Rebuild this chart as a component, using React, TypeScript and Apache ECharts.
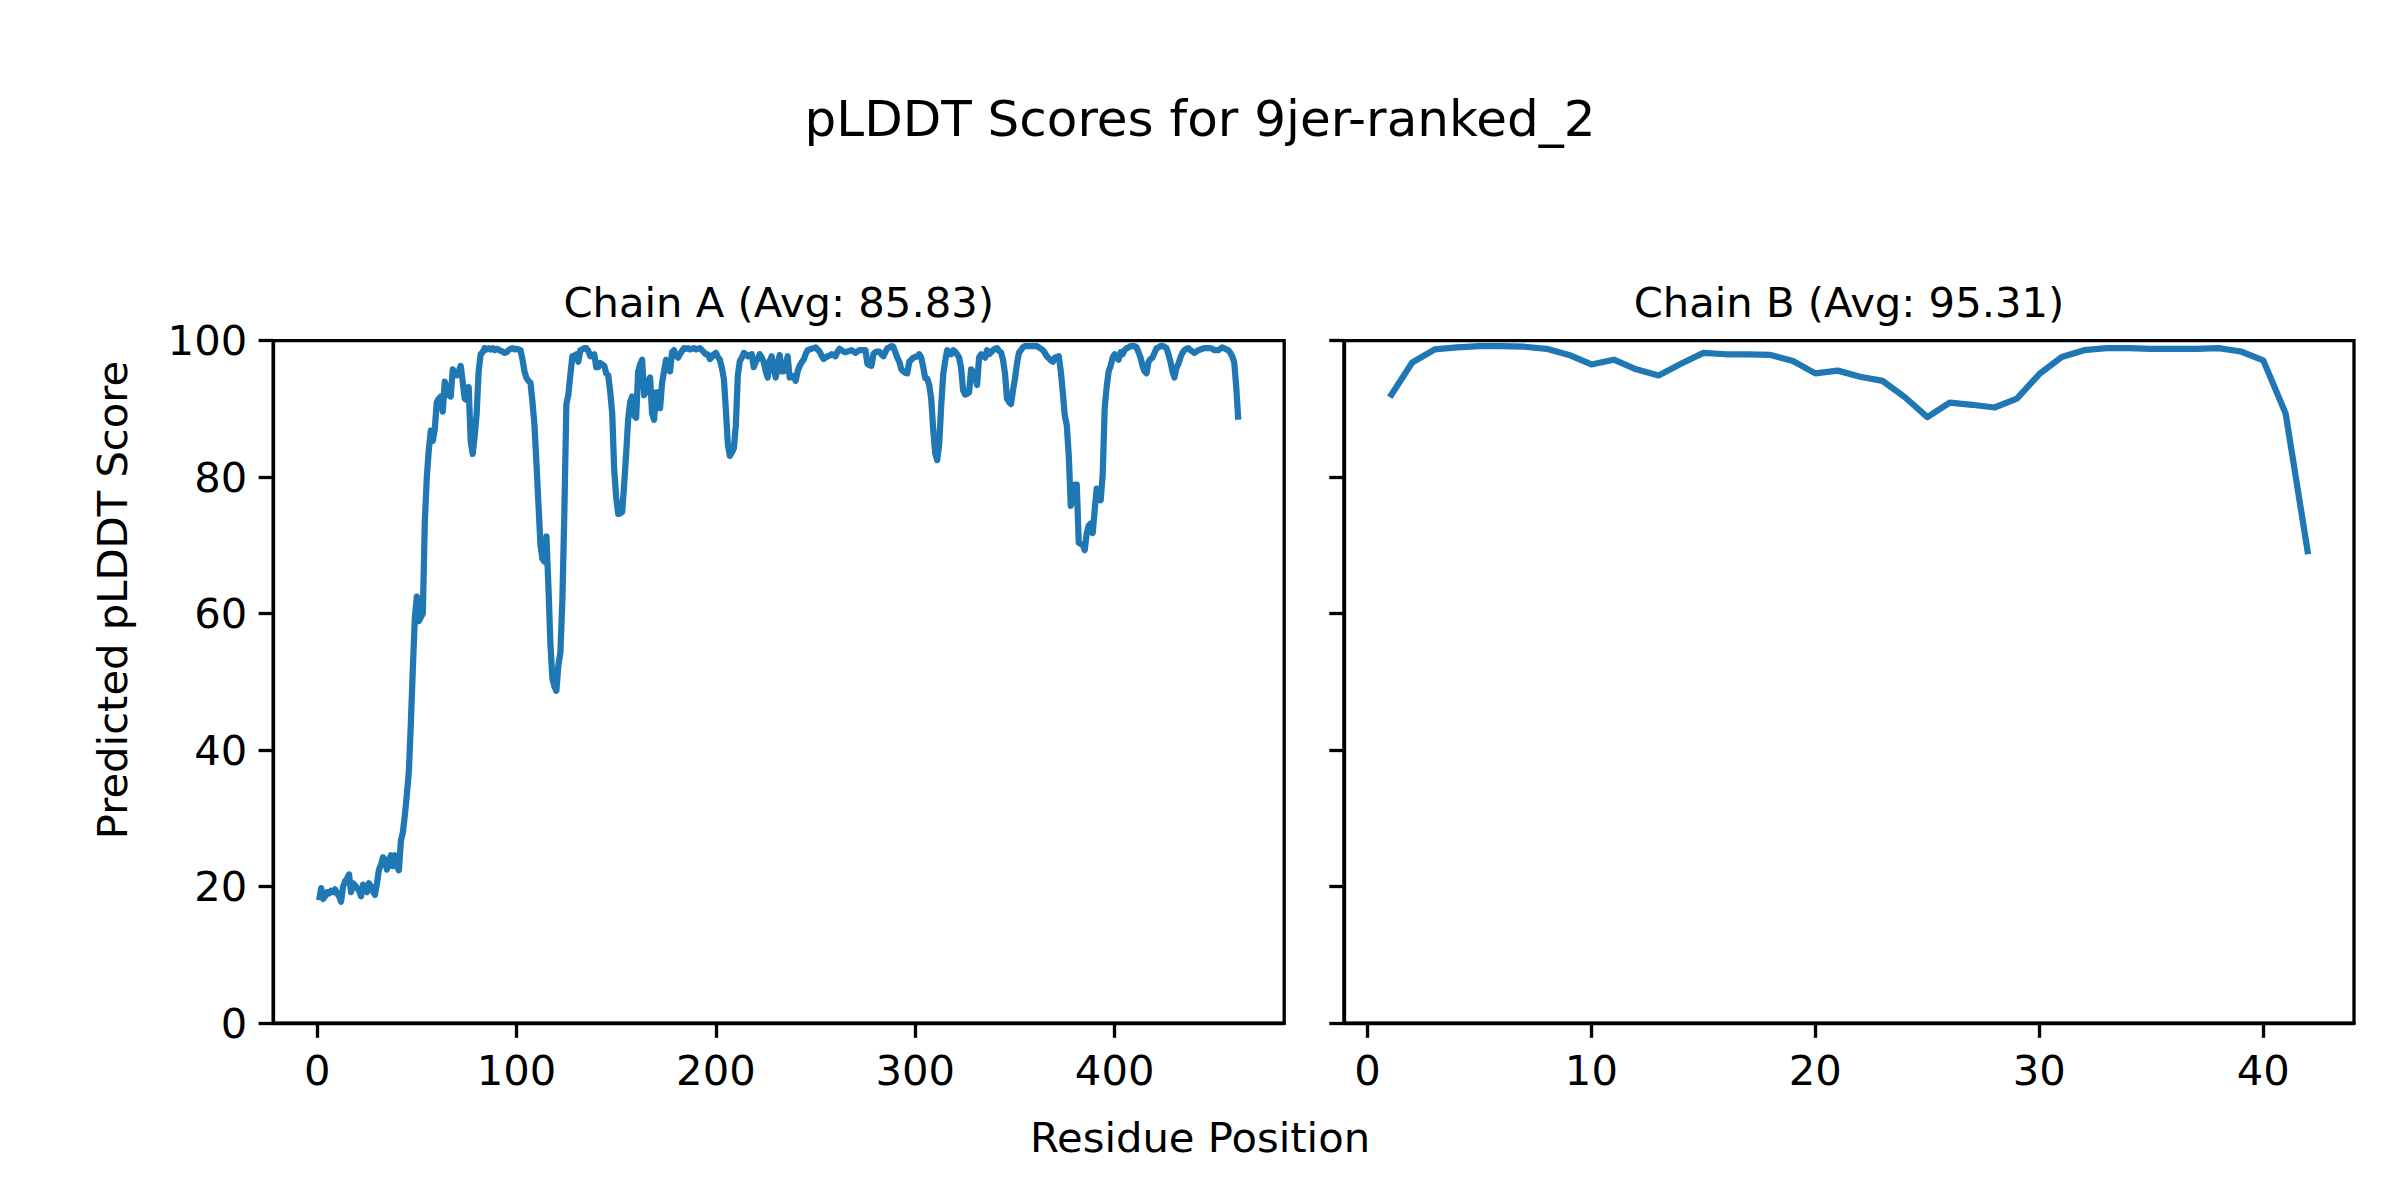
import React, { useEffect, useRef } from "react";
import * as echarts from "echarts";

const chartTitle = "pLDDT Scores for 9jer-ranked_2";
const chainATitle = "Chain A (Avg: 85.83)";
const chainBTitle = "Chain B (Avg: 95.31)";
const xLabel = "Residue Position";
const yLabel = "Predicted pLDDT Score";

const chainATicks = [0, 100, 200, 300, 400];
const chainBTicks = [0, 10, 20, 30, 40];

// Chain A pLDDT, residues 1..462
const chainAValues = [
  18.0, 19.8, 18.2, 18.6, 19.2, 19.0, 19.4, 19.2, 19.6, 19.0,
  18.6, 17.8, 20.0, 20.8, 21.2, 21.8, 19.2, 20.5, 20.2, 19.8,
  19.4, 18.6, 20.3, 19.8, 19.2, 20.5, 20.0, 19.3, 18.8, 20.5,
  22.5, 23.2, 24.3, 24.0, 22.5, 23.8, 24.6, 23.0, 24.6, 23.0,
  22.4, 26.7, 28.0, 30.5, 33.5, 36.9, 44.0, 52.0, 59.4, 62.5,
  58.9, 59.5, 60.0, 73.5, 80.0, 84.0, 86.8, 85.3, 87.0, 91.0,
  91.5, 91.8, 89.6, 94.0, 93.0, 92.0, 91.8, 95.8, 95.0, 94.9,
  95.5, 96.3, 94.0, 91.5, 91.3, 93.2, 85.3, 83.4, 86.0, 89.3,
  95.5, 98.0, 98.3, 98.9, 98.7, 98.9, 98.7, 98.9, 98.6, 98.8,
  98.7, 98.5, 98.4, 98.2, 98.3, 98.6, 98.8, 98.9, 98.7, 98.8,
  98.7, 98.6, 97.2, 95.5, 94.5, 94.1, 93.8, 91.0, 87.6, 82.0,
  76.0, 70.1, 68.0, 67.6, 71.3, 64.0, 55.5, 50.5, 49.3, 48.7,
  52.5, 54.3, 62.0, 75.0, 90.7, 92.1, 95.0, 97.7, 97.8, 98.0,
  96.9, 98.6, 98.7, 98.9, 98.9, 98.5, 97.7, 97.8, 98.0, 96.1,
  96.1, 96.7, 96.5, 96.3, 95.2, 94.9, 92.5, 89.3, 81.0, 77.0,
  74.6, 74.7, 74.9, 79.0, 83.5, 88.5, 91.0, 91.8, 89.0, 88.7,
  95.5, 96.5, 97.2, 92.0, 92.5, 94.0, 94.6, 89.3, 88.4, 92.4,
  92.4, 90.1, 93.8, 95.5, 97.2, 96.0, 95.5, 98.3, 98.6, 97.8,
  97.5, 98.0, 98.5, 98.9, 98.8, 98.9, 98.7, 98.8, 98.9, 98.7,
  98.8, 98.9, 98.6, 98.3, 98.0, 98.0, 97.3, 97.6, 98.0, 98.2,
  97.6, 97.2, 96.0, 94.4, 89.9, 84.8, 83.1, 83.6, 84.2, 87.6,
  94.9, 97.0, 97.5, 98.2, 98.0, 97.7, 97.9, 98.0, 96.1, 96.9,
  97.3, 98.0, 97.5, 96.9, 95.5, 94.6, 97.0, 97.7, 96.0, 94.6,
  96.5, 97.9, 95.5, 95.5, 96.5, 97.7, 94.6, 94.6, 94.8, 94.1,
  95.5, 96.3, 96.8, 97.2, 98.0, 98.6, 98.7, 98.8, 98.9, 99.0,
  98.7, 98.4, 97.8, 97.3, 97.5, 97.7, 97.8, 98.0, 97.9, 97.7,
  98.4, 98.8, 98.6, 98.4, 98.3, 98.4, 98.5, 98.6, 98.4, 98.2,
  98.4, 98.6, 98.6, 98.6, 98.6, 96.6, 96.4, 96.3, 98.0, 98.3,
  98.4, 98.4, 98.0, 97.7, 98.3, 98.9, 99.0, 99.2, 99.1, 98.3,
  97.5, 96.9, 95.8, 95.5, 95.3, 95.2, 96.9, 97.2, 97.5, 97.6,
  97.7, 98.0, 97.5, 96.1, 94.5, 94.4, 93.5, 91.5, 87.0, 83.5,
  82.5, 84.8, 90.4, 95.0, 97.0, 98.6, 98.3, 98.0, 98.6, 98.4,
  98.0, 97.5, 96.0, 92.7, 92.1, 92.2, 92.4, 95.8, 95.5, 94.5,
  93.5, 97.5, 98.0, 97.8, 97.5, 98.6, 98.0, 98.3, 98.6, 98.8,
  98.9, 98.5, 98.3, 97.2, 95.2, 91.5, 91.0, 90.7, 92.7, 94.4,
  96.6, 98.2, 98.6, 99.0, 99.2, 99.2, 99.2, 99.2, 99.2, 99.2,
  99.2, 99.0, 98.8, 98.6, 98.2, 97.7, 97.4, 97.1, 96.9, 97.5,
  97.6, 97.7, 95.5, 92.4, 89.0, 87.6, 83.1, 75.8, 77.2, 78.9,
  78.9, 70.4, 70.2, 70.1, 69.3, 71.8, 72.9, 73.2, 71.8, 75.2,
  78.3, 77.5, 76.6, 80.3, 90.1, 93.2, 95.5, 96.3, 97.5, 98.0,
  97.5, 97.2, 98.3, 98.0, 98.6, 98.9, 99.0, 99.2, 99.2, 99.2,
  99.0, 98.3, 97.5, 96.3, 95.5, 95.2, 96.9, 97.3, 97.5, 98.2,
  98.9, 99.0, 99.2, 99.2, 99.1, 98.9, 98.0, 96.9, 95.5, 94.6,
  96.0, 96.6, 97.5, 98.2, 98.6, 98.8, 98.9, 98.6, 98.4, 98.2,
  98.4, 98.6, 98.7, 98.8, 98.9, 98.9, 98.9, 98.9, 98.8, 98.6,
  98.6, 98.6, 98.8, 99.0, 98.9, 98.7, 98.6, 98.2, 97.7, 96.8,
  93.2, 88.4,
];

// Chain B pLDDT, residues 1..42
const chainBValues = [
  91.7, 96.8, 98.7, 99.0, 99.2, 99.2, 99.1, 98.8, 97.9, 96.5,
  97.2, 95.8, 94.9, 96.6, 98.2, 98.0, 98.0, 97.9, 97.0, 95.2,
  95.6, 94.7, 94.1, 91.7, 88.8, 90.9, 90.6, 90.2, 91.5, 95.1,
  97.6, 98.6, 98.9, 98.9, 98.8, 98.8, 98.8, 98.9, 98.4, 97.1,
  89.3, 68.7,
];

const FONT = "DejaVu Sans";
const LINE_COLOR = "#1f77b4";
const TICK_FS = 41.7;
const SPINE_W = 3.3;
const TICK_LEN = 14.6;

function pairs(values: number[]) {
  return values.map((v, i) => [i + 1, v]);
}

export default function App() {
  const ref = useRef<HTMLDivElement>(null);

  useEffect(() => {
    if (!ref.current) return;
    const chart = echarts.init(ref.current, undefined, { renderer: "svg" });

    const gridTop = 340.6;
    const gridHeight = 682.6;
    const gridA = { left: 273.2, width: 1011 };
    const gridB = { left: 1343.9, width: 1010.1 };

    const axisCommonX = (ticks: number[], min: number, max: number, gi: number) => ({
      type: "value",
      gridIndex: gi,
      min,
      max,
      splitLine: { show: false },
      axisLine: { show: true, onZero: false, lineStyle: { color: "#000", width: SPINE_W } },
      axisTick: {
        show: true,
        inside: false,
        length: TICK_LEN,
        lineStyle: { color: "#000", width: SPINE_W },
        customValues: ticks,
      },
      axisLabel: {
        show: true,
        margin: 26,
        color: "#000",
        fontFamily: FONT,
        fontSize: TICK_FS,
        customValues: ticks,
        formatter: (v: number) => String(v),
      },
    });

    const axisCommonY = (gi: number, showLabels: boolean) => ({
      type: "value",
      gridIndex: gi,
      min: 0,
      max: 100,
      interval: 20,
      splitLine: { show: false },
      axisLine: { show: true, onZero: false, lineStyle: { color: "#000", width: SPINE_W } },
      axisTick: {
        show: true,
        inside: false,
        length: TICK_LEN,
        lineStyle: { color: "#000", width: SPINE_W },
      },
      axisLabel: {
        show: showLabels,
        margin: 26,
        color: "#000",
        fontFamily: FONT,
        fontSize: TICK_FS,
      },
    });

    const option = {
      animation: false,
      backgroundColor: "#fff",
      grid: [
        {
          left: gridA.left,
          top: gridTop,
          width: gridA.width,
          height: gridHeight,
          show: true,
          borderColor: "#000",
          borderWidth: SPINE_W,
          backgroundColor: "transparent",
        },
        {
          left: gridB.left,
          top: gridTop,
          width: gridB.width,
          height: gridHeight,
          show: true,
          borderColor: "#000",
          borderWidth: SPINE_W,
          backgroundColor: "transparent",
        },
      ],
      xAxis: [
        axisCommonX(chainATicks, -22.05, 485.05, 0),
        axisCommonX(chainBTicks, -1.05, 44.05, 1),
      ],
      yAxis: [axisCommonY(0, true), axisCommonY(1, false)],
      series: [
        {
          type: "line",
          xAxisIndex: 0,
          yAxisIndex: 0,
          data: pairs(chainAValues),
          showSymbol: false,
          symbol: "none",
          lineStyle: { color: LINE_COLOR, width: 6.25, join: "round" },
          clip: true,
        },
        {
          type: "line",
          xAxisIndex: 1,
          yAxisIndex: 1,
          data: pairs(chainBValues),
          showSymbol: false,
          symbol: "none",
          lineStyle: { color: LINE_COLOR, width: 6.25, join: "round" },
          clip: true,
        },
      ],
      graphic: [
        {
          type: "text",
          x: 1200,
          y: 119,
          style: {
            text: chartTitle,
            fontFamily: FONT,
            fontSize: 50,
            fill: "#000",
            textAlign: "center",
            textVerticalAlign: "middle",
          },
        },
        {
          type: "text",
          x: gridA.left + gridA.width / 2,
          y: 302,
          style: {
            text: chainATitle,
            fontFamily: FONT,
            fontSize: TICK_FS,
            fill: "#000",
            textAlign: "center",
            textVerticalAlign: "middle",
          },
        },
        {
          type: "text",
          x: gridB.left + gridB.width / 2,
          y: 302,
          style: {
            text: chainBTitle,
            fontFamily: FONT,
            fontSize: TICK_FS,
            fill: "#000",
            textAlign: "center",
            textVerticalAlign: "middle",
          },
        },
        {
          type: "text",
          x: 1200,
          y: 1137,
          style: {
            text: xLabel,
            fontFamily: FONT,
            fontSize: TICK_FS,
            fill: "#000",
            textAlign: "center",
            textVerticalAlign: "middle",
          },
        },
        {
          type: "text",
          x: 112,
          y: 600,
          rotation: Math.PI / 2,
          style: {
            text: yLabel,
            fontFamily: FONT,
            fontSize: TICK_FS,
            fill: "#000",
            textAlign: "center",
            textVerticalAlign: "middle",
          },
        },
      ],
    };

    chart.setOption(option as any);
    return () => chart.dispose();
  }, []);

  return (
    <div
      ref={ref}
      style={{ position: "absolute", left: 0, top: 0, width: 2400, height: 1200 }}
    />
  );
}
